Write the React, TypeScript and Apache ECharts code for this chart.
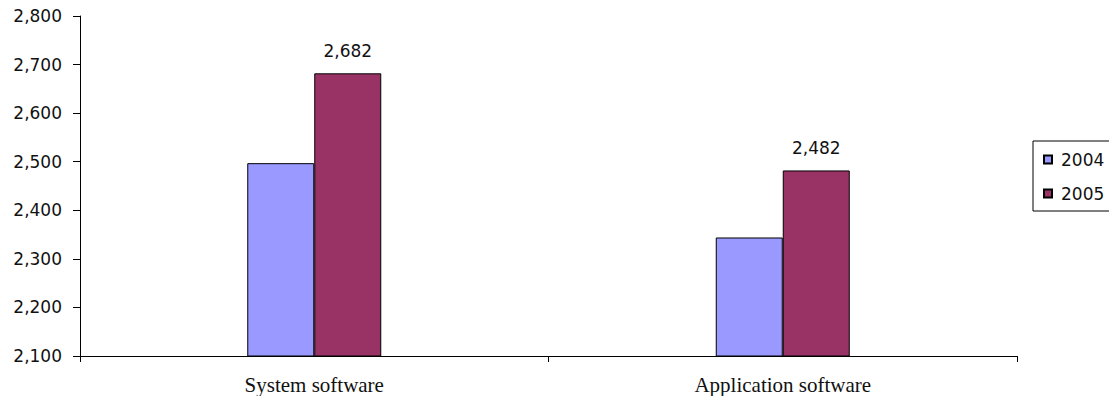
import React, { useEffect, useRef } from "react";
import * as echarts from "echarts";

const categories = ["System software", "Application software"];
const seriesNames = ["2004", "2005"];
const values2004 = [2497, 2344];
const values2005 = [2682, 2482];
const yMin = 2100;
const yMax = 2800;
const yStep = 100;

const fmt = (v: number) => Math.round(v).toLocaleString("en-US");

export default function App() {
  const ref = useRef<HTMLDivElement>(null);
  useEffect(() => {
    if (!ref.current) return;
    const chart = echarts.init(ref.current, null, { renderer: "svg" });
    const sans = "DejaVu Sans";
    chart.setOption({
      animation: false,
      backgroundColor: "#ffffff",
      grid: { left: 80, right: 92, top: 16, bottom: 40, containLabel: false },
      legend: {
        orient: "vertical",
        left: 1033,
        top: 141,
        padding: [10, 12, 9, 10],
        itemGap: 17,
        itemWidth: 8,
        itemHeight: 8,
        icon: "rect",
        borderColor: "#000",
        borderWidth: 1,
        data: seriesNames,
        textStyle: {
          fontFamily: sans,
          fontSize: 17,
          color: "#111",
          padding: [0, 0, 0, 4],
        },
      },
      xAxis: {
        type: "category",
        data: categories,
        axisLine: { lineStyle: { color: "#000", width: 1 } },
        axisTick: { show: true, length: 6, lineStyle: { color: "#000" } },
        axisLabel: {
          fontFamily: "Liberation Serif",
          fontSize: 21,
          color: "#111",
          margin: 18,
        },
      },
      yAxis: {
        type: "value",
        min: yMin,
        max: yMax,
        interval: yStep,
        splitLine: { show: false },
        axisLine: { show: true, lineStyle: { color: "#000", width: 1 } },
        axisTick: { show: true, length: 7, lineStyle: { color: "#000" } },
        axisLabel: {
          fontFamily: sans,
          fontSize: 17,
          color: "#111",
          margin: 18,
          formatter: (v: number) => fmt(v),
        },
      },
      series: [
        {
          name: seriesNames[0],
          type: "bar",
          data: values2004,
          barWidth: 67,
          barGap: "0%",
          itemStyle: { color: "#9999FF", borderColor: "#000", borderWidth: 1 },
        },
        {
          name: seriesNames[1],
          type: "bar",
          data: values2005,
          barWidth: 67,
          barGap: "0%",
          itemStyle: { color: "#993366", borderColor: "#000", borderWidth: 1 },
          label: {
            show: true,
            position: "top",
            distance: 14,
            fontFamily: sans,
            fontSize: 17,
            color: "#111",
            formatter: (p: any) => fmt(p.value),
          },
        },
      ],
    });
    return () => chart.dispose();
  }, []);
  return (
    <div
      ref={ref}
      style={{ position: "fixed", left: 0, top: 0, width: 1109, height: 396 }}
    />
  );
}
